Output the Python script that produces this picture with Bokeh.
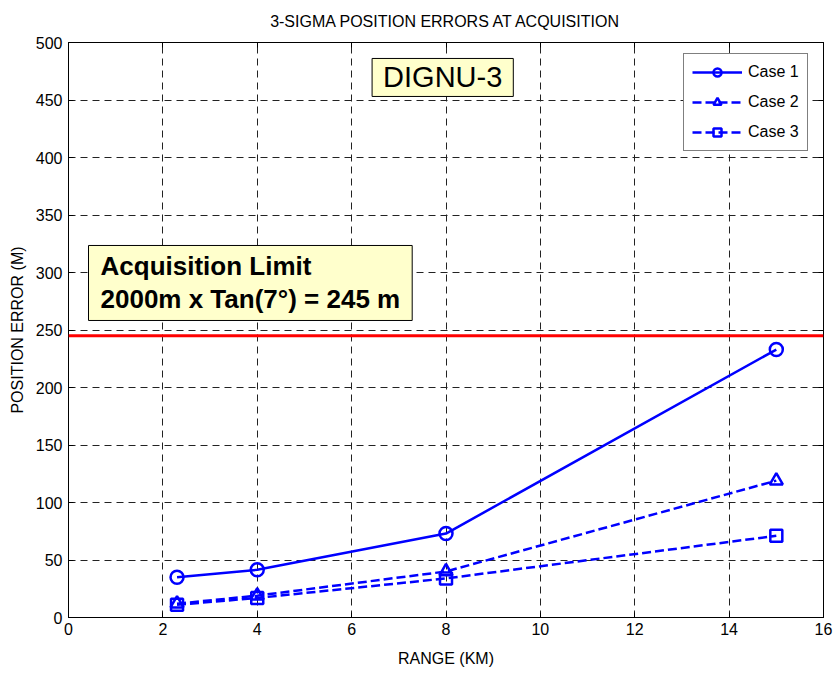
from bokeh.plotting import figure
from bokeh.models import (Range1d, LinearAxis, FixedTicker, Span, Label,
                          Legend, LegendItem)
from bokeh.embed import file_html
from bokeh.resources import INLINE

# Range (km) at each acquisition point
range_km = [2.3, 4.0, 8.0, 15.0]
# 3-sigma position errors (m)
case1 = [35, 41.5, 73, 233]
case2 = [12, 19, 40, 119]
case3 = [11, 17, 34, 71]
acq_limit = 245  # 2000 m x tan(7 deg)

x_ticks = [0, 2, 4, 6, 8, 10, 12, 14, 16]
y_ticks = [0, 50, 100, 150, 200, 250, 300, 350, 400, 450, 500]

FONT = "Liberation Sans"
BLUE = "#0000ff"

p = figure(width=834, height=673, output_backend="svg", toolbar_location=None,
           x_range=Range1d(0, 16), y_range=Range1d(0, 500),
           min_border_left=68, min_border_right=11, min_border_top=42,
           min_border_bottom=56, background_fill_color="white",
           border_fill_color="white", outline_line_color="black")

p.title.text = "3-SIGMA POSITION ERRORS AT ACQUISITION"
p.title.align = "center"
p.title.vertical_align = "top"
p.title.text_font = FONT
p.title.text_font_size = "16px"
p.title.text_font_style = "normal"
p.title.text_color = "black"
p.title.standoff = 22
p.title.offset = 0

for ax in (p.xaxis[0], p.yaxis[0]):
    ax.major_tick_in = 5
    ax.major_tick_out = 0
    ax.minor_tick_line_color = None
    ax.axis_line_color = "black"
    ax.major_tick_line_color = "black"
    ax.major_label_text_font = FONT
    ax.major_label_text_font_size = "16px"
    ax.major_label_text_color = "black"
    ax.axis_label_text_font = FONT
    ax.axis_label_text_font_size = "16px"
    ax.axis_label_text_font_style = "normal"
    ax.axis_label_text_color = "black"

p.xaxis.ticker = FixedTicker(ticks=x_ticks)
p.yaxis.ticker = FixedTicker(ticks=y_ticks)
p.xaxis.axis_label = "RANGE (KM)"
p.yaxis.axis_label = "POSITION ERROR (M)"
p.xaxis.major_label_standoff = 5
p.yaxis.major_label_standoff = 6
p.xaxis.axis_label_standoff = 12
p.yaxis.axis_label_standoff = 7

# box ticks on the top and right edges, without labels
top = LinearAxis(ticker=FixedTicker(ticks=x_ticks), major_tick_in=5,
                 major_tick_out=0, minor_tick_line_color=None,
                 major_label_overrides={t: "" for t in x_ticks},
                 major_label_standoff=0, axis_line_color="black")
right = LinearAxis(ticker=FixedTicker(ticks=y_ticks), major_tick_in=5,
                   major_tick_out=0, minor_tick_line_color=None,
                   major_label_overrides={t: "" for t in y_ticks},
                   major_label_standoff=0, axis_line_color="black")
p.add_layout(top, "above")
p.add_layout(right, "right")

for g in (p.xgrid[0], p.ygrid[0]):
    g.grid_line_color = "#222222"
    g.grid_line_dash = "7 5"
    g.grid_line_width = 1

# acquisition limit line
p.add_layout(Span(location=acq_limit, dimension="width", line_color="red",
                  line_width=3))

l1 = p.line(range_km, case1, line_color=BLUE, line_width=2.5)
m1 = p.scatter(range_km, case1, marker="circle", size=13, fill_color=None,
               line_color=BLUE, line_width=2.5)
l2 = p.line(range_km, case2, line_color=BLUE, line_width=2.5, line_dash="9 4")
m2 = p.scatter(range_km, case2, marker="triangle", size=13, fill_color=None,
               line_color=BLUE, line_width=2.5)
l3 = p.line(range_km, case3, line_color=BLUE, line_width=2.5, line_dash="9 4")
m3 = p.scatter(range_km, case3, marker="square", size=12, fill_color=None,
               line_color=BLUE, line_width=2.5)

legend = Legend(items=[LegendItem(label="Case 1", renderers=[l1, m1]),
                       LegendItem(label="Case 2", renderers=[l2, m2]),
                       LegendItem(label="Case 3", renderers=[l3, m3])],
                location=(615, 466), glyph_width=50, glyph_height=20,
                label_text_font=FONT, label_text_font_size="16px",
                label_text_color="black",
                label_standoff=6, spacing=10, padding=8, margin=0,
                border_line_color="black", border_line_width=1,
                background_fill_color="white", background_fill_alpha=1)
p.add_layout(legend, "center")

p.add_layout(Label(x=7.93, y=469.6, text="DIGNU-3", text_align="center",
                   text_baseline="middle", text_font=FONT, text_color="black",
                   text_font_size="29px", background_fill_color="#ffffcc",
                   border_line_color="black", border_line_width=1,
                   padding=(11, 3)))

p.add_layout(Label(x=0.424, y=323.5,
                   text="Acquisition Limit\n2000m x Tan(7\u00b0) = 245 m",
                   text_align="left", text_baseline="top", text_font=FONT,
                   text_color="black",
                   text_font_size="26px", text_font_style="bold",
                   text_line_height=1.1, background_fill_color="#ffffcc",
                   border_line_color="black", border_line_width=1,
                   padding=(12, 6)))

open("out.html", "w").write(file_html(p, INLINE))
